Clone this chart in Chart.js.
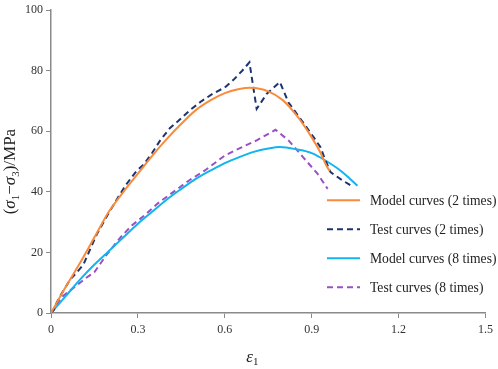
<!DOCTYPE html>
<html>
<head>
    <title>Stress-strain curves</title>
    <style>
        body {
            margin: 0;
            padding: 0;
            background: #ffffff;
        }
        #wrap {
            width: 498px;
            height: 369px;
        }
    </style>
    <script src="https://cdn.jsdelivr.net/npm/chart.js"></script>
</head>
<body>
    <div id="wrap"><canvas id="curveChart" width="498" height="369"></canvas></div>

    <script>
        // strain values and deviatoric stress (MPa)
        const model2Strain = [0, 0.05, 0.1, 0.15, 0.2, 0.25, 0.3, 0.35, 0.4, 0.45, 0.5, 0.55, 0.6, 0.65, 0.69, 0.75, 0.8, 0.85, 0.9, 0.93, 0.95, 0.962];
        const model2Stress = [0, 8.5, 16.5, 25, 33.5, 40, 46, 52, 57.5, 62.5, 67, 70.2, 72.6, 74, 74.4, 73.2, 70.3, 65, 58, 53, 48.8, 46.9];

        const test2Strain = [0, 0.01, 0.02, 0.031, 0.05, 0.066, 0.09, 0.112, 0.135, 0.158, 0.19, 0.227, 0.26, 0.296, 0.32, 0.35, 0.377, 0.41, 0.44, 0.48, 0.52, 0.56, 0.6, 0.63, 0.66, 0.685, 0.71, 0.745, 0.79, 0.82, 0.87, 0.907, 0.93, 0.945, 0.965, 1.0, 1.045];
        const test2Stress = [0, 1, 3.5, 5.5, 8.5, 11, 13.5, 16, 21, 26, 31.5, 37.5, 42.5, 47, 49, 53, 57, 61, 63.5, 67, 70, 72.5, 74.5, 77, 80, 82.8, 67.4, 72.4, 76.3, 69.5, 63, 58, 54.8, 51, 46.5, 44.2, 41.5];

        const model8Strain = [0, 0.05, 0.1, 0.15, 0.2, 0.25, 0.3, 0.35, 0.4, 0.45, 0.5, 0.55, 0.6, 0.65, 0.7, 0.75, 0.79, 0.85, 0.9, 0.95, 1.0, 1.03, 1.058];
        const model8Stress = [0, 5.5, 11, 16, 20.5, 25, 29.5, 33.5, 37.5, 41, 44.3, 47, 49.5, 51.5, 53.2, 54.3, 54.8, 54, 52.8, 50.2, 47, 44.5, 42];

        const test8Strain = [0, 0.02, 0.04, 0.06, 0.09, 0.12, 0.15, 0.19, 0.24, 0.28, 0.32, 0.37, 0.43, 0.48, 0.53, 0.6, 0.66, 0.71, 0.775, 0.82, 0.87, 0.92, 0.955];
        const test8Stress = [0, 3, 5.5, 7, 9.2, 11.5, 13.5, 19, 25, 29, 32, 36.3, 40.5, 44, 47, 52, 54.8, 57, 60.5, 57, 51.5, 46, 41];

        const seriesLabels = ['Model curves (2 times)', 'Test curves (2 times)', 'Model curves (8 times)', 'Test curves (8 times)'];

        const xTickValues = [0, 0.3, 0.6, 0.9, 1.2, 1.5];
        const xTickLabels = ['0', '0.3', '0.6', '0.9', '1.2', '1.5'];
        const yTickValues = [0, 20, 40, 60, 80, 100];
        const yTickLabels = ['0', '20', '40', '60', '80', '100'];

        const toPoints = (xs, ys) => xs.map((x, i) => ({ x: x, y: ys[i] }));

        const serif = "'Liberation Serif', 'Times New Roman', serif";
        const axisColor = '#8a8a8a';

        // legend drawn inside the plot, lower right
        const legendPlugin = {
            id: 'insideLegend',
            afterDraw(chart) {
                const ctx = chart.ctx;
                const area = chart.chartArea;
                const x0 = area.left + 276;
                const y0 = area.top + 190;
                const rowGap = 29;
                ctx.save();
                chart.data.datasets.forEach((ds, i) => {
                    const y = y0 + i * rowGap;
                    ctx.strokeStyle = ds.borderColor;
                    ctx.lineWidth = ds.borderWidth;
                    ctx.setLineDash(ds.borderDash || []);
                    ctx.beginPath();
                    ctx.moveTo(x0, y);
                    ctx.lineTo(x0 + 33, y);
                    ctx.stroke();
                    ctx.setLineDash([]);
                    ctx.fillStyle = '#222';
                    ctx.font = '13.6px ' + serif;
                    ctx.textBaseline = 'middle';
                    ctx.textAlign = 'left';
                    ctx.fillText(ds.label, x0 + 43, y + 1);
                });
                ctx.restore();
            }
        };

        // axis titles with subscripts
        const titlePlugin = {
            id: 'axisTitles',
            afterDraw(chart) {
                const ctx = chart.ctx;
                const area = chart.chartArea;
                ctx.save();
                ctx.fillStyle = '#222';
                ctx.textBaseline = 'alphabetic';

                // x title: ε1
                let x = (area.left + area.right) / 2 - 22;
                let y = 362;
                ctx.font = 'italic 17px ' + serif;
                ctx.fillText('\u03b5', x, y);
                x += ctx.measureText('\u03b5').width;
                ctx.font = '11px ' + serif;
                ctx.fillText('1', x, y + 3);

                // y title: (σ1−σ3)/MPa, rotated
                ctx.translate(10, (area.top + area.bottom) / 2 + 10);
                ctx.rotate(-Math.PI / 2);
                const parts = [
                    ['(', '17px', '', 0],
                    ['\u03c3', '17px', 'italic ', 0],
                    ['1', '11px', '', 4],
                    ['\u2212', '17px', '', 0],
                    ['\u03c3', '17px', 'italic ', 0],
                    ['3', '11px', '', 4],
                    [')/MPa', '17px', '', 0]
                ];
                let total = 0;
                parts.forEach(p => {
                    ctx.font = p[2] + p[1] + ' ' + serif;
                    total += ctx.measureText(p[0]).width;
                });
                let px = -total / 2;
                parts.forEach(p => {
                    ctx.font = p[2] + p[1] + ' ' + serif;
                    ctx.fillText(p[0], px, 5 + p[3]);
                    px += ctx.measureText(p[0]).width;
                });
                ctx.restore();
            }
        };

        const ctx = document.getElementById('curveChart').getContext('2d');
        const curveChart = new Chart(ctx, {
            type: 'line',
            data: {
                datasets: [
                    {
                        label: seriesLabels[0],
                        data: toPoints(model2Strain, model2Stress),
                        borderColor: '#f98b3c',
                        borderWidth: 2,
                        tension: 0.4,
                        cubicInterpolationMode: 'monotone'
                    },
                    {
                        label: seriesLabels[1],
                        data: toPoints(test2Strain, test2Stress),
                        borderColor: '#1c3470',
                        borderWidth: 2,
                        borderDash: [6, 4],
                        tension: 0
                    },
                    {
                        label: seriesLabels[2],
                        data: toPoints(model8Strain, model8Stress),
                        borderColor: '#12b4ef',
                        borderWidth: 2,
                        tension: 0.4,
                        cubicInterpolationMode: 'monotone'
                    },
                    {
                        label: seriesLabels[3],
                        data: toPoints(test8Strain, test8Stress),
                        borderColor: '#9a4fc4',
                        borderWidth: 2,
                        borderDash: [6, 4],
                        tension: 0
                    }
                ]
            },
            options: {
                responsive: false,
                animation: false,
                layout: {
                    padding: { top: 10, right: 12, left: 0, bottom: 0 }
                },
                elements: {
                    point: { radius: 0 }
                },
                plugins: {
                    legend: { display: false },
                    tooltip: { enabled: false }
                },
                scales: {
                    x: {
                        type: 'linear',
                        min: 0,
                        max: 1.5,
                        grid: {
                            drawOnChartArea: false,
                            drawTicks: true,
                            tickLength: 5,
                            color: axisColor
                        },
                        border: { color: axisColor, width: 1.5 },
                        ticks: {
                            padding: 5,
                            color: '#333',
                            font: { family: serif, size: 12 },
                            maxRotation: 0,
                            callback: (v, i) => xTickLabels[i]
                        },
                        afterBuildTicks: (scale) => {
                            scale.ticks = xTickValues.map(v => ({ value: v }));
                        },
                        afterFit: (scale) => {
                            scale.height = 56;
                        }
                    },
                    y: {
                        min: 0,
                        max: 100,
                        grid: {
                            drawOnChartArea: false,
                            drawTicks: true,
                            tickLength: 5,
                            color: axisColor
                        },
                        border: { color: axisColor, width: 1.5 },
                        ticks: {
                            padding: 3,
                            color: '#333',
                            font: { family: serif, size: 12 },
                            callback: (v, i) => yTickLabels[i]
                        },
                        afterBuildTicks: (scale) => {
                            scale.ticks = yTickValues.map(v => ({ value: v }));
                        },
                        afterFit: (scale) => {
                            scale.width = 51;
                        }
                    }
                }
            },
            plugins: [legendPlugin, titlePlugin]
        });
    </script>
</body>
</html>
